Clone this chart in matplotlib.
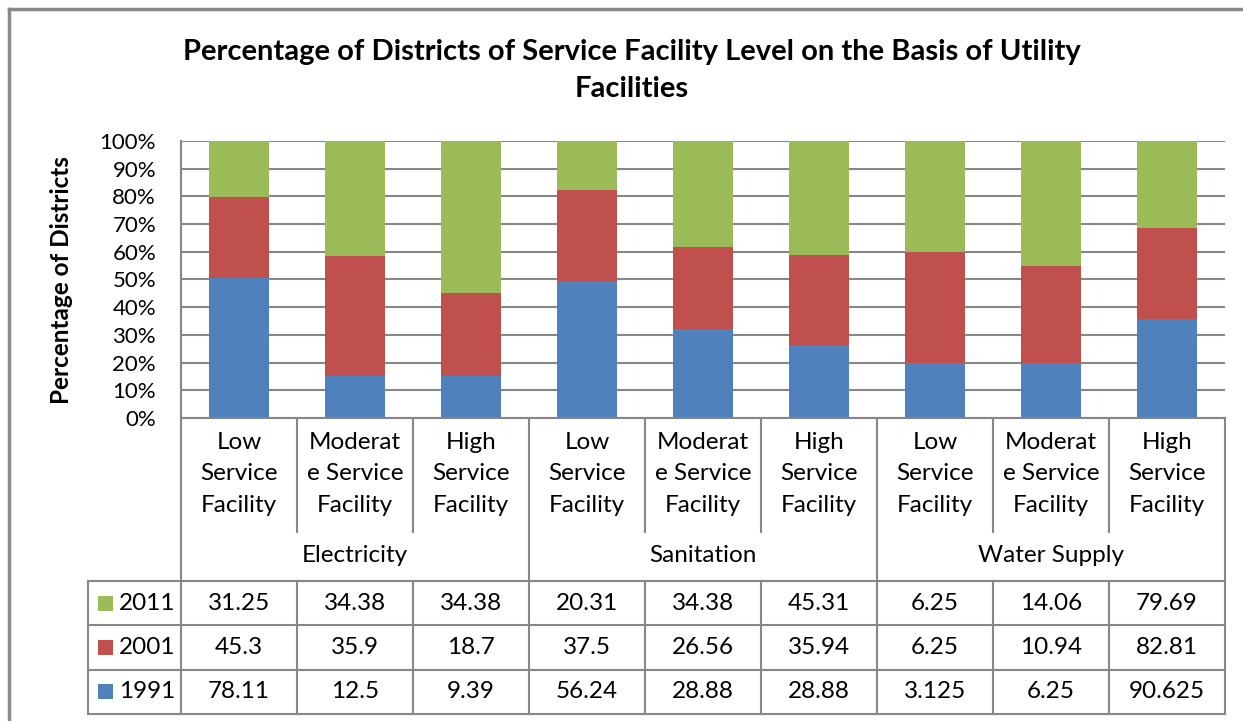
import numpy as np
import matplotlib
matplotlib.use("Agg")
import matplotlib.pyplot as plt
from matplotlib import patches
from matplotlib.ticker import PercentFormatter

plt.rcParams['font.family'] = ['Lato', 'DejaVu Sans']

# data
categories = ["Low\nService\nFacility", "Moderat\ne Service\nFacility", "High\nService\nFacility"] * 3
groups = ["Electricity", "Sanitation", "Water Supply"]
years = ["2011", "2001", "1991"]
v1991 = [78.11, 12.5, 9.39, 56.24, 28.88, 28.88, 3.125, 6.25, 90.625]
v2001 = [45.3, 35.9, 18.7, 37.5, 26.56, 35.94, 6.25, 10.94, 82.81]
v2011 = [31.25, 34.38, 34.38, 20.31, 34.38, 45.31, 6.25, 14.06, 79.69]

colors = {"1991": "#4F81BD", "2001": "#C0504D", "2011": "#9BBB59"}
grid_c = "#878787"

W, H = 1243, 721
fig = plt.figure(figsize=(W / 100, H / 100), dpi=100)

# pixel layout of plot area
px_l, px_r, px_t, px_b = 181, 1225, 141, 418
ax = fig.add_axes([px_l / W, 1 - px_b / H, (px_r - px_l) / W, (px_b - px_t) / H])

vals = np.array([v1991, v2001, v2011])
pct = vals / vals.sum(axis=0) * 100
x = np.arange(len(categories))
bottom = np.zeros(len(categories))
for name, row in zip(["1991", "2001", "2011"], pct):
    ax.bar(x, row, 0.51, bottom=bottom, color=colors[name], zorder=3)
    bottom += row

ax.set_xlim(-0.5, len(categories) - 0.5)
ax.set_ylim(0, 100)
ax.set_yticks(np.arange(0, 101, 10))
ax.yaxis.set_major_formatter(PercentFormatter(decimals=0))
ax.tick_params(axis='y', length=0, labelsize=16, pad=18)
ax.tick_params(axis='x', length=0, labelbottom=False)
ax.grid(axis='y', color=grid_c, linewidth=1.5, zorder=0)
for s in ["top", "right", "bottom"]:
    ax.spines[s].set_visible(False)
ax.spines["left"].set_color(grid_c)
ax.spines["left"].set_linewidth(1.5)

# overlay in pixel coords for table, title and frame
ov2 = fig.add_axes([0, 0, 1, 1])
ov2.set_xlim(0, W)
ov2.set_ylim(H, 0)
ov2.axis('off')
ov2.patch.set_alpha(0)

# chart frame (only top and left edges are inside the picture)
ov2.plot([9, W + 50], [9, 9], color="#8a8a8a", linewidth=2.5)
ov2.plot([9, 9], [9, H + 50], color="#8a8a8a", linewidth=2.5)

ov2.text(632, 52, "Percentage of Districts of Service Facility Level on the Basis of Utility",
         ha='center', va='center', fontsize=21, fontweight='bold')
ov2.text(632, 89, "Facilities", ha='center', va='center', fontsize=21, fontweight='bold')
ov2.text(62, 280, "Percentage of Districts", ha='center', va='center', rotation=90,
         fontsize=17.5, fontweight='bold')

cw = (px_r - px_l) / len(categories)
cat_bot, grp_bot = 532, 581
row_h = 44.3
leg_l = 88
lw = 1.5

def line(x0, y0, x1, y1):
    ov2.plot([x0, x1], [y0, y1], color=grid_c, linewidth=lw, solid_capstyle='projecting')

line(px_l, px_b, px_r, px_b)
line(px_l, px_b, px_l, grp_bot + 3 * row_h)
line(px_r, px_b, px_r, grp_bot + 3 * row_h)
line(leg_l, grp_bot, leg_l, grp_bot + 3 * row_h)
for i in range(1, len(categories)):
    xe = px_l + i * cw
    if i % 3 == 0:
        line(xe, px_b, xe, grp_bot + 3 * row_h)
    else:
        line(xe, px_b, xe, cat_bot)
        line(xe, grp_bot, xe, grp_bot + 3 * row_h)
for r in range(4):
    line(leg_l, grp_bot + r * row_h, px_r, grp_bot + r * row_h)

for i, c in enumerate(categories):
    ov2.text(px_l + (i + 0.5) * cw, 474, c, ha='center', va='center',
             fontsize=17.5, linespacing=1.62)
for g, name in enumerate(groups):
    ov2.text(px_l + (g * 3 + 1.5) * cw, 556, name, ha='center', va='center', fontsize=17.5)

table_rows = {"2011": v2011, "2001": v2001, "1991": v1991}
for r, yr in enumerate(years):
    yc = grp_bot + (r + 0.5) * row_h
    ov2.add_patch(patches.Rectangle((98, yc - 7.5), 15, 15, color=colors[yr], linewidth=0))
    ov2.text(119, yc, yr, ha='left', va='center', fontsize=17.5)
    for i, v in enumerate(table_rows[yr]):
        ov2.text(px_l + (i + 0.5) * cw, yc, f"{v:g}", ha='center', va='center', fontsize=17.5)

fig.savefig("out.png", dpi=100)
